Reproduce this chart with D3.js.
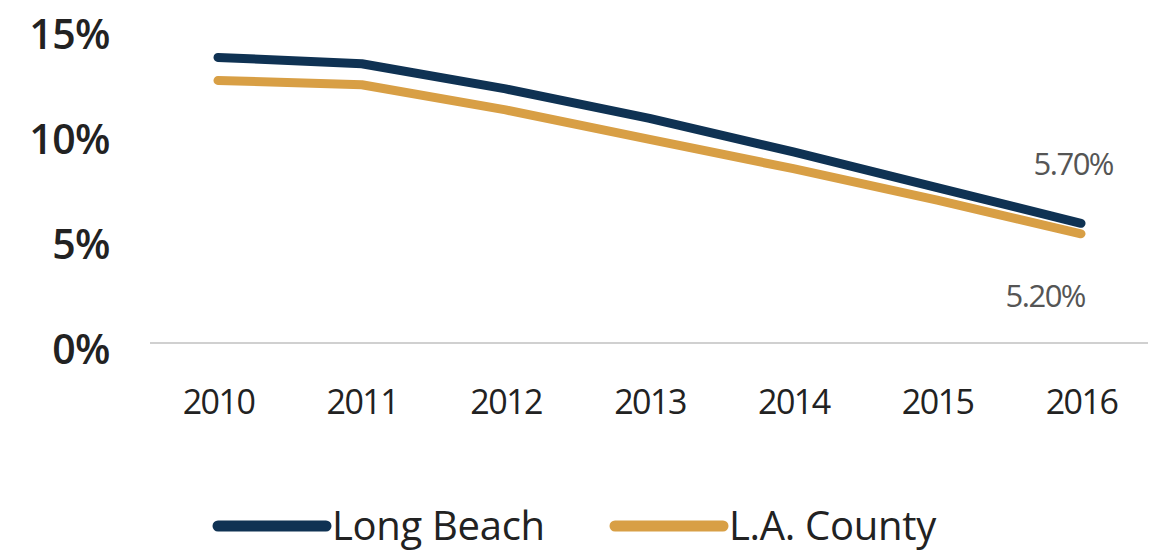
<!DOCTYPE html>
<html>
<head>
<meta charset="utf-8">
<script src="https://cdn.jsdelivr.net/npm/d3@7"></script>
<style>
  html, body { margin: 0; padding: 0; background: #fff; }
  svg { display: block; font-family: "Open Sans", "Noto Sans", sans-serif; }
  svg text { font-family: "Open Sans", "Noto Sans", sans-serif; }
</style>
</head>
<body>
<div id="chart"></div>
<script>
// data
const years = ["2010", "2011", "2012", "2013", "2014", "2015", "2016"];
const longBeach = [13.6, 13.3, 12.1, 10.7, 9.1, 7.4, 5.7];
const laCounty = [12.5, 12.3, 11.1, 9.7, 8.3, 6.8, 5.2];
const yTicks = [0, 5, 10, 15];
const seriesNames = ["Long Beach", "L.A. County"];
const colors = ["#0f3253", "#d89f45"];
const endLabels = ["5.70%", "5.20%"];

const width = 1165, height = 552;

const svg = d3.select("#chart").append("svg")
  .attr("width", width)
  .attr("height", height);

let x = d3.scalePoint()
  .domain(years)
  .range([218, 1081]);

let y = d3.scaleLinear()
  .domain([0, 15])
  .range([343, 28]);

// baseline
svg.append("line")
  .attr("x1", 150).attr("x2", 1148)
  .attr("y1", y(0)).attr("y2", y(0))
  .attr("stroke", "#d0d0d0")
  .attr("stroke-width", 2);

// y axis labels
let yAxis = d3.axisLeft(y)
  .tickValues(yTicks)
  .tickFormat(d => d + "%")
  .tickSize(0)
  .tickPadding(0);
let yg = svg.append("g")
  .attr("transform", "translate(110,0)")
  .call(yAxis)
  .attr("font-family", null)
  .attr("font-size", null);
yg.select(".domain").remove();
yg.selectAll("text")
  .attr("dy", "0.5em")
  .attr("fill", "#222")
  .style("font-size", "41px")
  .style("font-weight", "600")
  .style("letter-spacing", "-0.5px");

// x axis labels
let xAxis = d3.axisBottom(x).tickSize(0).tickPadding(0);
let xg = svg.append("g")
  .attr("transform", "translate(0,390)")
  .call(xAxis)
  .attr("font-family", null)
  .attr("font-size", null);
xg.select(".domain").remove();
xg.selectAll("text")
  .attr("dy", "0.72em")
  .attr("fill", "#222")
  .style("font-size", "34px")
  .style("letter-spacing", "-1.5px");

// lines
let line = d3.line()
  .x((d, i) => x(years[i]))
  .y(d => y(d));

[longBeach, laCounty].slice().reverse().forEach((vals, k) => {
  let i = 1 - k;
  svg.append("path")
    .datum(vals)
    .attr("fill", "none")
    .attr("stroke", colors[i])
    .attr("stroke-width", 9)
    .attr("stroke-linecap", "round")
    .attr("stroke-linejoin", "round")
    .attr("d", line);
});

// end labels
svg.append("text")
  .attr("x", x("2016") + 32)
  .attr("y", y(longBeach[6]) - 60)
  .attr("text-anchor", "end")
  .attr("dominant-baseline", "central")
  .attr("fill", "#555")
  .style("font-size", "31px")
  .style("letter-spacing", "-1.5px")
  .text(endLabels[0]);

svg.append("text")
  .attr("x", x("2016") + 4)
  .attr("y", y(laCounty[6]) + 61)
  .attr("text-anchor", "end")
  .attr("dominant-baseline", "central")
  .attr("fill", "#555")
  .style("font-size", "31px")
  .style("letter-spacing", "-1.5px")
  .text(endLabels[1]);

// legend
let legend = svg.append("g").attr("transform", "translate(0,526)");
let legendX = [218, 615];
seriesNames.forEach((name, i) => {
  let g = legend.append("g").attr("transform", "translate(" + legendX[i] + ",0)");
  g.append("line")
    .attr("x1", 0).attr("x2", 108)
    .attr("y1", 0).attr("y2", 0)
    .attr("stroke", colors[i])
    .attr("stroke-width", 11)
    .attr("stroke-linecap", "round");
  g.append("text")
    .attr("x", 114)
    .attr("y", 0)
    .attr("dy", "0.34em")
    .attr("fill", "#222")
    .style("font-size", "40px")
    .style("letter-spacing", "-0.3px")
    .text(name);
});
</script>
</body>
</html>
